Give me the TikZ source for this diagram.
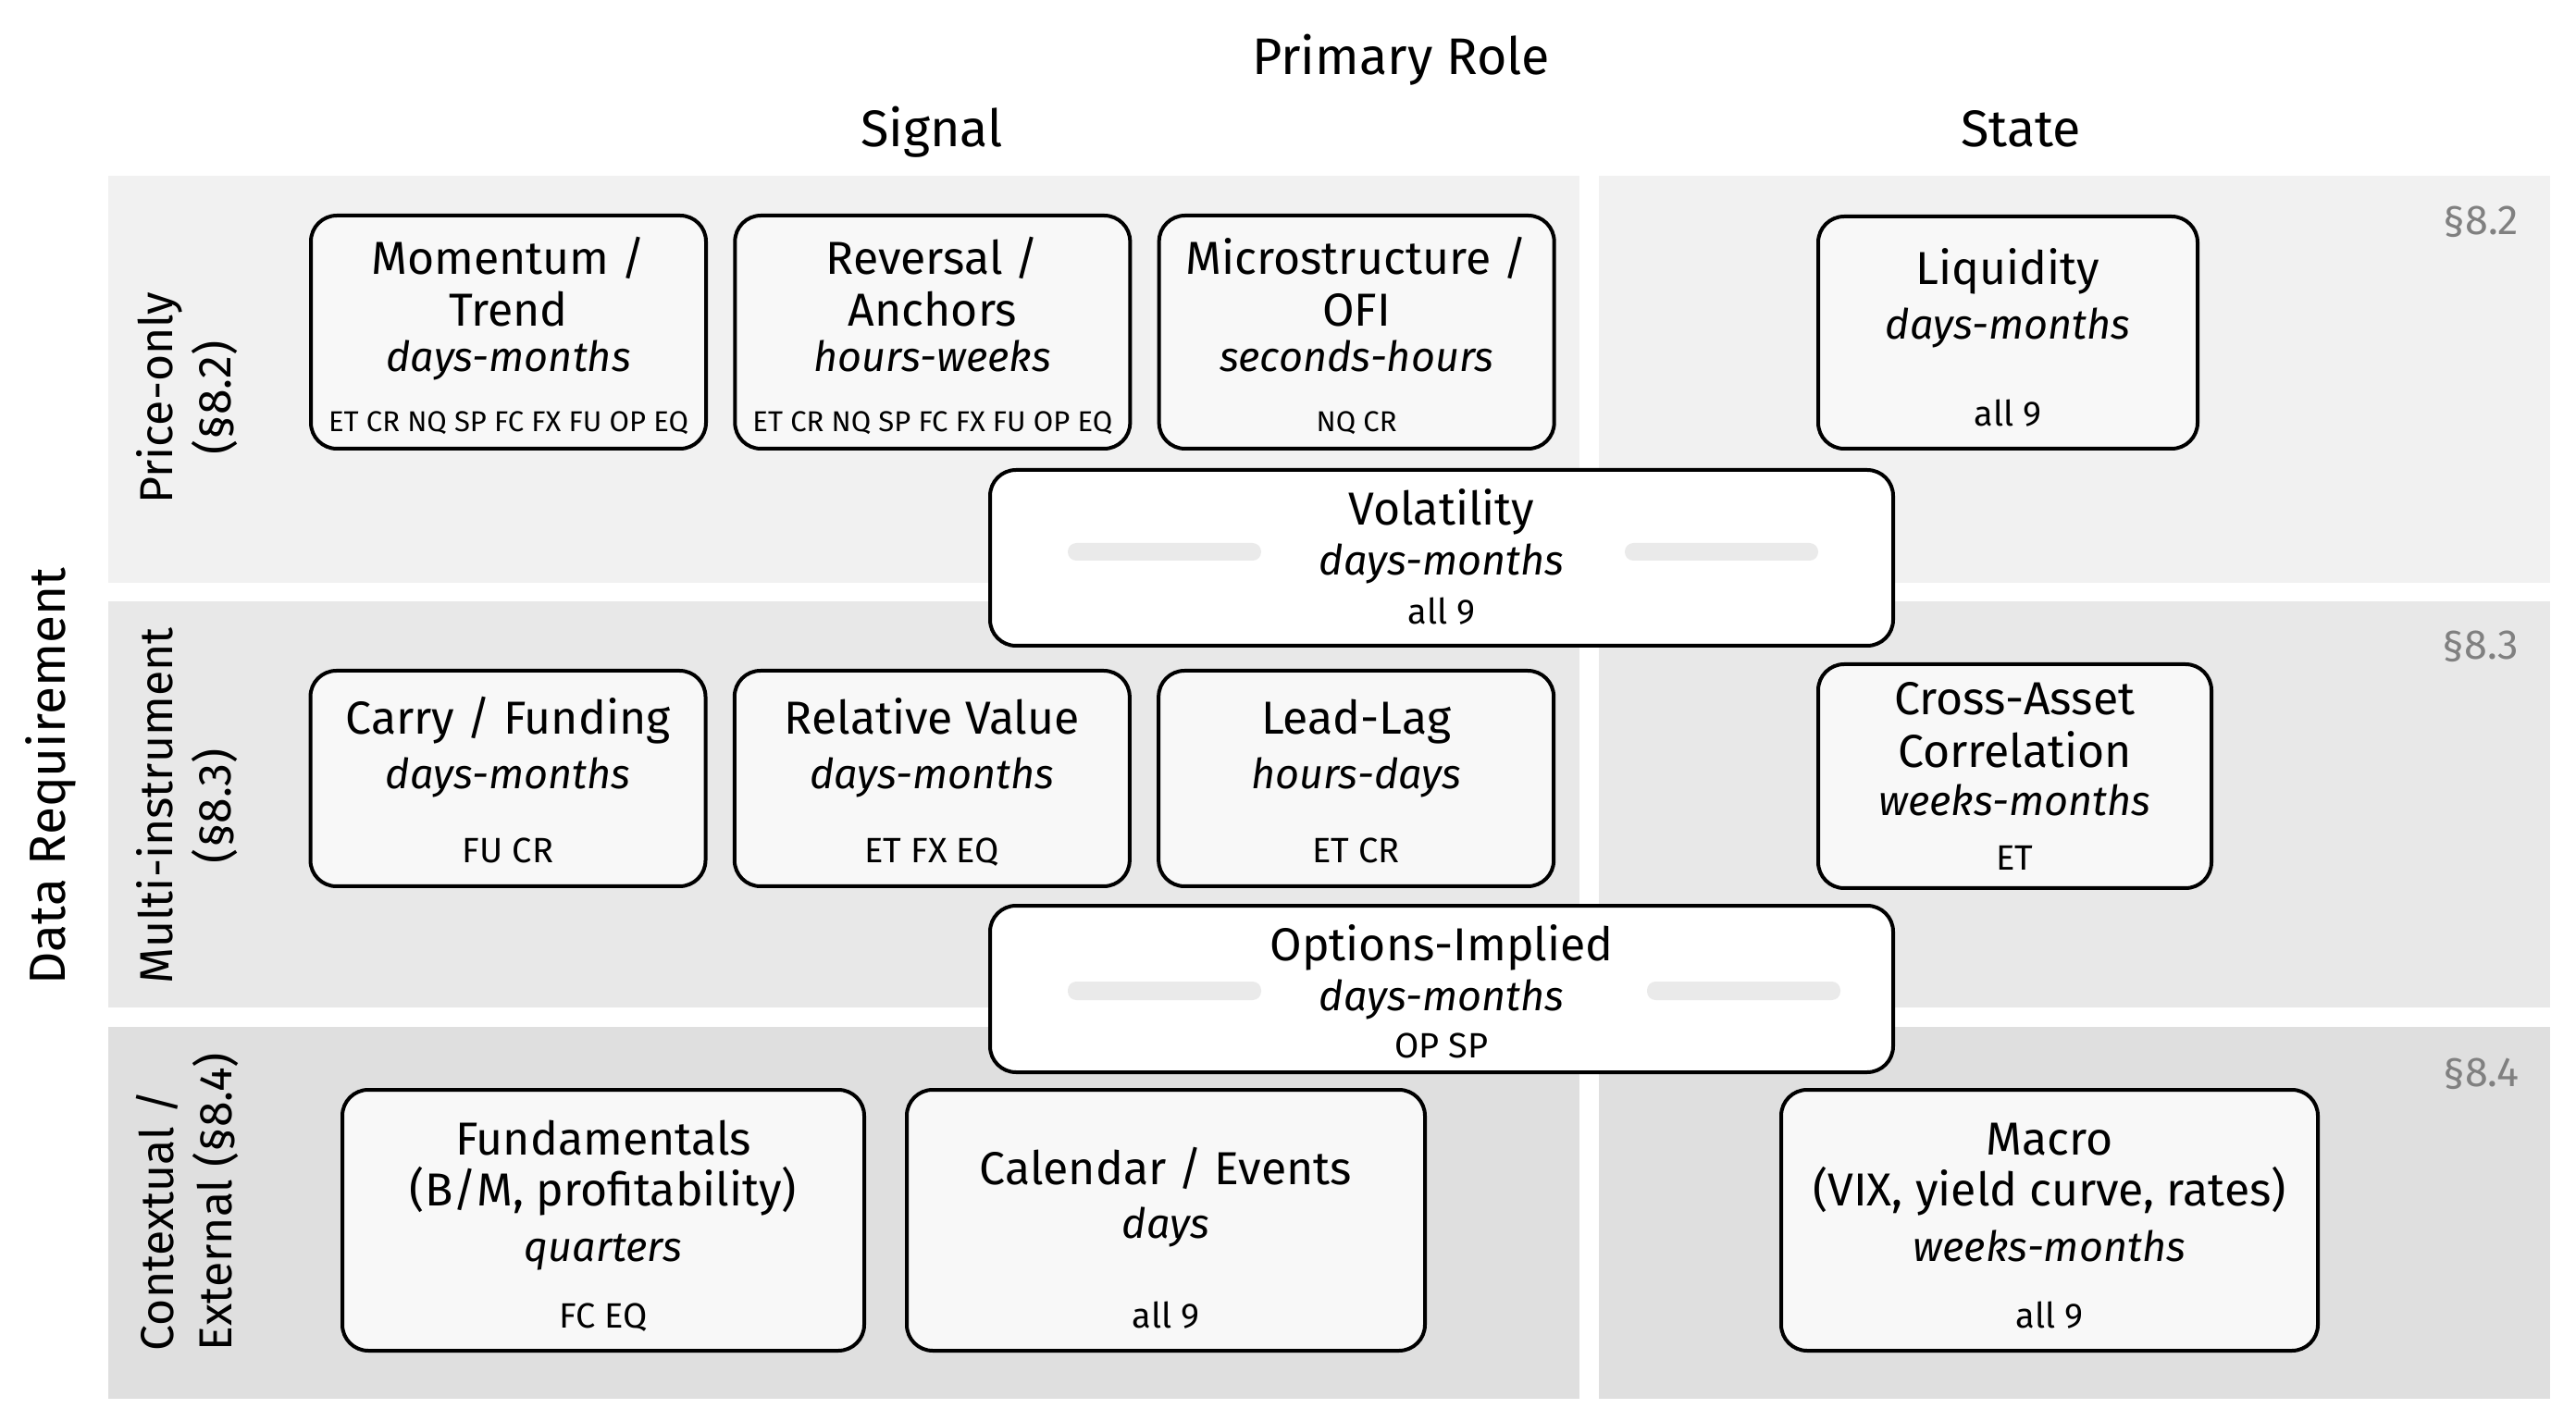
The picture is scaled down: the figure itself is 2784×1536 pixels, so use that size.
\documentclass[tikz,border=0pt]{standalone}
\usepackage{fontspec}
\setmainfont{Fira Sans}
\usetikzlibrary{positioning}
\definecolor{bandA}{HTML}{F1F1F1}
\definecolor{bandB}{HTML}{E8E8E8}
\definecolor{bandC}{HTML}{DFDFDF}
\definecolor{boxfill}{HTML}{F8F8F8}
\definecolor{secgray}{HTML}{808080}
\definecolor{pillgray}{HTML}{EAEAEA}
\newcommand{\horizon}[1]{{\itshape\fontsize{13.5}{15}\selectfont #1}}
\newcommand{\assets}[1]{{\fontsize{11.4}{12}\selectfont #1}}
\newcommand{\assetsS}[1]{{\fontsize{9.3}{12}\selectfont #1}}

\begin{document}
\begin{tikzpicture}[x=0.3pt, y=-0.3pt,
    node distance=8.2pt,
    role/.style={rectangle, rounded corners=8.4pt, draw=black, line width=1.2pt,
                 fill=boxfill, inner sep=0pt, align=center,
                 font=\fontsize{15}{15}\selectfont},
    wide/.style={role, fill=white, minimum width=292.8pt},
    hdr/.style={anchor=base, font=\fontsize{16.7}{20}\selectfont},
    rowlbl/.style={rotate=90, align=center, font=\fontsize{15}{18.9}\selectfont},
    sec/.style={anchor=base east, text=secgray, font=\fontsize{13.5}{16}\selectfont},
    pill/.style={fill=pillgray, rounded corners=2.8pt}
  ]
  \useasboundingbox (0,0) rectangle (2784,1536);

  % bands
  \fill[bandA] (117,190) rectangle (1707,630);
  \fill[bandA] (1728,190) rectangle (2756,630);
  \fill[bandB] (117,650) rectangle (1707,1089);
  \fill[bandB] (1728,650) rectangle (2756,1089);
  \fill[bandC] (117,1110) rectangle (1707,1512);
  \fill[bandC] (1728,1110) rectangle (2756,1512);

  % headers
  \node[hdr] (role)   at (1514,81)  {Primary Role};
  \node[hdr] (signal) at (1007,159) {Signal};
  \node[hdr] (state)  at (2184,159) {State};

  \node[rowlbl, font=\fontsize{16.5}{20}\selectfont] (datareq) at (55,839) {Data Requirement};
  \node[rowlbl] (price) at (202,430)  {Price-only\\(§8.2)};
  \node[rowlbl] (multi) at (202,871)  {Multi-instrument\\(§8.3)};
  \node[rowlbl, align=left] (ctx) at (202,1299) {Contextual /\\External (§8.4)};

  \node[sec] (s82) at (2734,254)  {§8.2};
  \node[sec] (s83) at (2734,713)  {§8.3};
  \node[sec] (s84) at (2734,1174) {§8.4};

  % price-only
  \node[role, minimum width=128.1pt, text height=70.2pt, text depth=5.4pt] (mom) at (549.5,359)
    {Momentum /\\[1.8pt]Trend\\[-0.3pt]\horizon{days-months}\\[4.5pt]\assetsS{ET CR NQ SP FC FX FU OP EQ}};
  \node[role, minimum width=128.1pt, text height=70.2pt, text depth=5.4pt, right=of mom] (rev)
    {Reversal /\\[1.8pt]Anchors\\[-0.3pt]\horizon{hours-weeks}\\[4.5pt]\assetsS{ET CR NQ SP FC FX FU OP EQ}};
  \node[role, minimum width=128.1pt, text height=70.2pt, text depth=5.4pt, right=of rev] (micro)
    {Microstructure /\\[1.8pt]OFI\\[-0.3pt]\horizon{seconds-hours}\\[4.5pt]\assetsS{NQ CR}};
  \node[role, minimum width=123pt, text height=68.1pt, text depth=7.2pt] (liq) at (2170,359.5)
    {Liquidity\\[2.7pt]\horizon{days-months}\\[13.2pt]\assets{all 9}};

  \node[wide, text height=50.1pt, text depth=6.9pt] (vol) at (1558,603)
    {Volatility\\[1.2pt]\horizon{days-months}\\[0.9pt]\assets{all 9}};
  \fill[pill] (1154,587) rectangle (1363,606);
  \fill[pill] (1756,587) rectangle (1965,606);

  % multi-instrument
  \node[role, minimum width=128.1pt, text height=62.1pt, text depth=7.8pt] (carry) at (549,841.5)
    {Carry / Funding\\[2.7pt]\horizon{days-months}\\[9pt]\assets{FU CR}};
  \node[role, minimum width=128.1pt, text height=62.1pt, text depth=7.8pt, right=of carry] (relval)
    {Relative Value\\[2.7pt]\horizon{days-months}\\[9pt]\assets{ET FX EQ}};
  \node[role, minimum width=128.1pt, text height=62.1pt, text depth=7.8pt, right=of relval] (leadlag)
    {Lead-Lag\\[2.7pt]\horizon{hours-days}\\[9pt]\assets{ET CR}};
  \node[role, minimum width=127.5pt, text height=66.6pt, text depth=6pt] (cross) at (2177.5,839)
    {Cross-Asset\\[2.1pt]Correlation\\[0.6pt]\horizon{weeks-months}\\[2.7pt]\assets{ET}};

  \node[wide, text height=49.2pt, text depth=4.8pt] (opt) at (1558,1069)
    {Options-Implied\\[1.2pt]\horizon{days-months}\\[0.3pt]\assets{OP SP}};
  \fill[pill] (1154,1061) rectangle (1363,1081);
  \fill[pill] (1780,1061) rectangle (1989,1081);

  % contextual / external
  \node[role, minimum width=169.2pt, text height=77.1pt, text depth=7.5pt] (fund) at (652,1319)
    {Fundamentals\\[1.5pt](B/M, profitability)\\[3pt]\horizon{quarters}\\[6.6pt]\assets{FC EQ}};
  \node[role, minimum width=168pt, text height=77.1pt, text depth=7.5pt, right=12.6pt of fund] (cal)
    {Calendar / Events\\[2.4pt]\horizon{days}\\[14.1pt]\assets{all 9}};
  \node[role, minimum width=174pt, text height=77.1pt, text depth=7.5pt] (macro) at (2215,1319)
    {Macro\\[1.5pt](VIX, yield curve, rates)\\[3pt]\horizon{weeks-months}\\[6.6pt]\assets{all 9}};
\end{tikzpicture}
\end{document}
